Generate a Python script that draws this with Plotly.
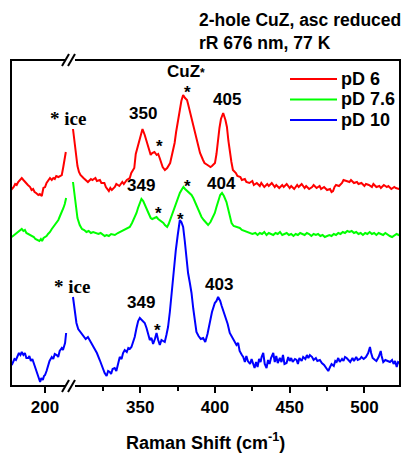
import plotly.graph_objects as go

# ---------------- data (Raman shift in cm-1, intensity in arbitrary units incl. offset) ----------------
red_left_wn = [177.2, 178, 179, 180, 181, 182, 183, 184.4, 185.5, 186.5, 187.5, 188.5, 190, 191, 192, 193, 194,
               195.5, 196.5, 197.8, 198.9, 200, 201, 202, 203.3, 204.5, 205.5, 206.5, 207.5, 208.9, 210, 211.2,
               212.2, 213, 213.9]
red_left_int = [196, 197, 199, 202, 201, 204, 206, 208, 206, 204, 202, 201, 199, 196, 197, 194, 193,
                191, 192, 190, 198, 199, 203, 205, 208, 206, 208, 207, 210, 209, 210, 211,
                219, 226, 234]

red_right_wn = [305, 306, 307, 308, 309, 310, 312, 314, 315, 317, 318, 320, 321, 323, 324, 326, 327, 329, 330, 331,
                333, 334, 336, 338, 339, 341, 343, 344, 345, 346, 347, 348, 349, 350, 351.5, 353, 354, 355, 357, 358,
                359.5, 361, 362, 363, 364, 365, 366.5, 368, 370, 371, 373, 374, 375, 376.5, 377.5, 378.7, 380, 381.3,
                382, 383, 384, 386, 387, 389, 390, 392, 393, 395, 397, 398, 400, 401, 402, 403, 404, 405.5, 407, 408,
                409, 410, 411, 412, 414, 415, 417, 418, 420, 421, 423, 425, 426, 428, 430, 431, 433, 435, 436, 438,
                440, 441, 443, 445, 446, 448, 450, 451, 453, 455, 456, 458, 460, 461, 463, 465, 466, 468, 470, 471,
                473, 475, 477, 478, 479, 480, 481, 483, 485, 486, 488, 490, 491, 493, 495, 496, 498, 500, 501, 503,
                505, 506, 508, 510, 511, 513, 515, 516, 518, 520, 521, 523, 524]
red_right_int = [257, 243, 232, 220, 214, 211, 208, 205, 204, 207, 206, 208, 205, 206, 203, 203, 199, 195, 198, 196,
                 199, 202, 200, 204, 202, 206, 208, 213, 215, 218, 232, 238, 243, 251, 257, 251, 246, 240, 231, 233,
                 234, 231, 232, 228, 224, 219, 216, 218, 223, 230, 243, 254, 265, 276, 285, 291, 288, 286,
                 282, 276, 268, 258, 250, 239, 233, 226, 223, 221, 219, 220, 223, 232, 246, 258, 267, 273, 266, 259,
                 245, 232, 224, 216, 213, 210, 209, 206, 207, 204, 203, 205, 201, 203, 200, 203, 199, 202, 200, 203,
                 199, 201, 198, 201, 199, 202, 198, 200, 197, 201, 199, 202, 198, 200, 197, 199, 201, 198, 200, 197,
                 199, 196, 197, 194, 195, 199, 201, 200, 203, 206, 205, 204, 206, 203, 204, 202, 203, 200, 202, 201,
                 199, 202, 199, 200, 198, 201, 199, 200, 197, 199, 198, 197, 198]

green_left_wn = [177.7, 178.5, 179.5, 180.5, 181.5, 182.5, 184.4, 185.5, 186.5, 187.5, 189, 190, 191, 192.5, 193.5,
                 195, 196.2, 197.2, 198, 199, 200, 201, 202, 203.3, 204.5, 205.5, 206.5, 207.5, 208.9, 210, 211,
                 212.3, 213.2, 214.1]
green_left_int = [149, 150, 151, 153, 154, 155, 157, 155, 156, 153, 152, 151, 150, 149, 147,
                  146, 145, 147, 145, 148, 149, 150, 152, 154, 157, 159, 161, 163, 166, 170, 173,
                  178, 182, 188]

green_right_wn = [305, 306, 306.8, 308, 309.5, 311, 312.5, 314, 315.5, 317, 318.5, 320.7, 322, 323.5, 325, 326.2,
                  327.5, 329, 330.5, 332, 333, 335, 336.5, 338.5, 340, 341.5, 343, 344.5, 345.5, 347.5, 348.5, 349.5,
                  350.8, 352, 353, 354.2, 355.5, 357, 358, 359.5, 360.9, 362, 363, 364.2, 365.5, 366.5, 368, 369, 370,
                  371, 372, 373.5, 375, 376.5, 378, 378.9, 380, 381.5, 383, 384.3, 385.5, 387, 388.5, 389.9, 391,
                  392.5, 394, 395.4, 397, 398.5, 399.9, 401, 402.5, 403.5, 404.7, 406, 407.7, 409, 410, 411.1, 412.5,
                  414, 415.5, 416.6, 418, 420, 421.5, 423.3, 425, 427, 428.5, 430, 431.5, 433, 434.5, 436, 437.5,
                  439, 440.5, 442, 443.5, 445, 446.5, 448, 449.5, 451, 452.5, 454, 455.5, 457, 458.5, 460, 461.5,
                  463, 464.5, 466, 467.5, 469, 470.5, 472, 473.5, 475, 476.5, 478, 479.5, 481, 482.5, 484, 485.5,
                  487, 488.5, 490, 491.5, 493, 494.5, 496, 497.5, 499, 500.5, 502, 503.5, 505, 506.5, 508, 509.5,
                  511, 512.5, 514, 515.5, 517, 518.5, 520, 521.5, 523, 524]
green_right_int = [204, 192, 179, 168, 161, 157, 156, 154, 155, 153, 154, 153, 152, 153, 151, 150,
                   151, 150, 152, 151, 151, 153, 154, 156, 157, 158, 159, 163, 166, 173, 178, 183,
                   187, 185, 181, 178, 173, 168, 167, 168, 169, 167, 166, 164, 163, 161, 159, 162, 166,
                   171, 176, 182, 188, 193, 197, 199, 197, 195, 193, 191, 188, 183, 178, 173, 169,
                   166, 163, 161, 164, 168, 173, 179, 187, 191, 193, 190, 184, 175, 168, 163, 160,
                   159, 158, 158, 156, 155, 154, 153, 152, 153, 151, 153, 152, 154, 151, 153, 152,
                   151, 153, 152, 154, 151, 152, 153, 151, 152, 150, 152, 151, 153, 152, 151, 153,
                   152, 150, 152, 151, 152, 150, 151, 149, 150, 151, 150, 152, 151, 153, 152, 154,
                   153, 155, 154, 155, 153, 154, 152, 153, 151, 153, 152, 154, 152, 153, 151, 153,
                   152, 151, 153, 151, 150, 149, 151, 152, 151, 152]

blue_left_wn = [177.7, 178.5, 179.5, 180.5, 181.5, 182.5, 183.5, 184.4, 185.5, 186.5, 187.5, 188.8, 189.5, 190.5,
                191.5, 192.2, 193, 194.4, 195.3, 196, 196.7, 197.5, 198.5, 199.3, 200, 201, 202, 203, 204.5, 205.5,
                206.5, 207.8, 208.8, 209.8, 211.2, 212, 213, 213.4, 214.1]
blue_left_int = [21, 24, 27, 26, 30, 33, 31, 34, 31, 33, 28, 28, 30, 25,
                 27, 24, 19, 13, 9, 6, 4, 8, 6, 10, 11, 15, 20, 25, 29, 27,
                 32, 31, 29, 35, 38, 36, 41, 43, 53]

blue_right_wn = [305, 306, 307.3, 308.5, 310.6, 312, 313.5, 315, 316.5, 318, 319.5, 321, 322.9, 324, 325, 326.2,
                 327.5, 328.5, 329.6, 330.5, 331.5, 332.9, 334, 335, 336.3, 337.5, 338.5, 339.6, 341, 342, 343,
                 344.1, 345.2, 346.3, 347.5, 348.6, 349.7, 351, 352, 353, 354.2, 355.3, 356.4, 357.5, 358.6, 359.8,
                 360.9, 362, 363.1, 364.2, 365.3, 366.4, 367.5, 368.6, 369.8, 370.9, 372, 373, 373.8, 375, 376.5,
                 377.5, 378.7, 379.8, 380.9, 382, 383.2, 384.3, 385.5, 386.5, 387.6, 389, 390.5, 392.1, 393.5, 395,
                 396.6, 398, 399.9, 401, 402.1, 403.5, 404.5, 405.5, 407, 408.5, 409.9, 411, 412.5, 414.4, 415.5,
                 416.5, 418, 418.9, 420, 421, 422, 423.5, 424.5, 425.6, 426.5, 427.5, 428.5, 429.5, 430.5, 431.2,
                 432.3, 433.3, 434.5, 435.5, 436.5, 437.5, 439, 440, 441, 442, 443.4, 444.5, 445.5, 446.5, 447.9,
                 449, 450, 451, 452, 453.5, 454.6, 455.5, 456.5, 458, 459, 460.5, 461.5, 462.5, 463.5, 465, 466,
                 467.5, 468.5, 470.2, 471.5, 473, 474, 475, 475.8, 477, 478, 479.5, 480.5, 481.4, 482.5, 483.5, 485,
                 486, 487, 488.1, 489.5, 490.5, 492, 493, 494.5, 495.5, 497, 498, 499.5, 501, 502.5, 503.7, 504.5,
                 505.5, 507.1, 508, 509.5, 510.9, 511.5, 512.6, 514, 515.5, 517.1, 518.5, 519.5, 520.5, 521.6,
                 522.5, 523.5]
blue_right_int = [89, 78, 63, 57, 53, 51, 47, 49, 45, 41, 38, 33, 26, 21, 17, 13,
                  10, 15, 14, 12, 17, 18, 15, 22, 29, 27, 33, 36, 34, 38, 37,
                  39, 44, 49, 58, 65, 68, 66, 64, 63, 58, 51, 46, 48, 42, 47,
                  53, 46, 41, 46, 45, 44, 51, 59, 74, 93, 107, 122, 136, 150, 166,
                  164, 159, 145, 126, 113, 103, 93, 77, 63, 54, 50, 47, 48, 44, 52,
                  66, 74, 83, 85, 89, 85, 80, 76, 70, 62, 53, 50, 45, 41, 43,
                  35, 31, 29, 24, 30, 25, 22, 27, 21, 18, 24, 19, 27, 24, 29,
                  33, 22, 18, 26, 22, 28, 33, 24, 30, 23, 28, 24, 31, 22, 23,
                  29, 25, 28, 24, 27, 26, 22, 28, 25, 29, 27, 31, 28, 31, 29, 26,
                  28, 25, 26, 23, 21, 19, 16, 15, 19, 22, 20, 25, 24, 28, 24, 27,
                  25, 29, 28, 26, 24, 28, 25, 29, 26, 27, 29, 27, 29, 33, 39, 33,
                  28, 26, 25, 29, 35, 30, 24, 26, 25, 24, 26, 22, 25, 19,
                  24, 23]

series_names = ["pD 6", "pD 7.6", "pD 10"]
series_colors = ["#ff0000", "#00ff00", "#0000ff"]

left_range = [177.2, 216.7]
right_range = [303, 523.8]
right_major_ticks = [350, 400, 450, 500]
right_minor_ticks = [325, 375, 425, 475]
left_major_ticks = [200]

# ---------------- figure ----------------
W, H = 408, 453
ML, MR, MT, MB = 11, 8, 60, 67
plot_w = W - ML - MR
plot_h = H - MT - MB
split = 59 / plot_w  # axis-break position in paper coords


def px2paper_x(px):
    return (px - ML) / plot_w


def px2paper_y(py):
    return (MT + plot_h - py) / plot_h


fig = go.Figure()
segments = [
    (red_left_wn, red_left_int, red_right_wn, red_right_int),
    (green_left_wn, green_left_int, green_right_wn, green_right_int),
    (blue_left_wn, blue_left_int, blue_right_wn, blue_right_int),
]
for (lx, ly, rx, ry), name, col in zip(segments, series_names, series_colors):
    fig.add_trace(go.Scatter(x=lx, y=ly, mode="lines", line=dict(color=col, width=2),
                             xaxis="x", yaxis="y", showlegend=False, legendgroup=name, name=name))
    fig.add_trace(go.Scatter(x=rx, y=ry, mode="lines", line=dict(color=col, width=2), name=name,
                             xaxis="x2", yaxis="y", showlegend=False, legendgroup=name))

tickfont = dict(family="Liberation Sans, Arial", size=17, color="black", weight="bold")
fig.update_layout(
    width=W, height=H,
    margin=dict(l=ML, r=MR, t=MT, b=MB, pad=0),
    paper_bgcolor="white", plot_bgcolor="white",
    xaxis=dict(domain=[0, split], range=left_range, tickvals=left_major_ticks, ticks="outside",
               ticklen=6, tickwidth=2, tickcolor="black", showgrid=False, zeroline=False,
               showline=False, tickfont=tickfont, anchor="y"),
    xaxis2=dict(domain=[split, 1], range=right_range, tickvals=right_major_ticks, ticks="outside",
                ticklen=6, tickwidth=2, tickcolor="black", showgrid=False, zeroline=False,
                showline=False, tickfont=tickfont, anchor="y",
                minor=dict(tickmode="array", tickvals=right_minor_ticks, ticks="outside",
                           ticklen=4, tickwidth=2, tickcolor="black", showgrid=False)),
    yaxis=dict(range=[0, plot_h], visible=False, fixedrange=True),
    showlegend=False,
)

# frame
fig.add_shape(type="rect", xref="paper", yref="paper", x0=0, x1=1, y0=0, y1=1,
              line=dict(color="black", width=2), fillcolor="rgba(0,0,0,0)", layer="above")
# axis break marks
for py in (60, 386):
    yc = px2paper_y(py)
    dy = 6 / plot_h
    fig.add_shape(type="rect", xref="paper", yref="paper", x0=px2paper_x(65), x1=px2paper_x(75),
                  y0=yc - 2 / plot_h, y1=yc + 2 / plot_h, line=dict(width=0), fillcolor="white", layer="above")
    for x0 in (62, 68):
        fig.add_shape(type="line", xref="paper", yref="paper",
                      x0=px2paper_x(x0), y0=yc - dy, x1=px2paper_x(x0 + 7), y1=yc + dy,
                      line=dict(color="black", width=2), layer="above")

bold = dict(family="Liberation Sans, Arial", size=17, color="black", weight="bold")
legfont = dict(family="Liberation Sans, Arial", size=18, color="black", weight="bold")
serif = dict(family="Liberation Serif, Times New Roman, serif", size=19, color="black")

# legend (drawn as line samples + labels)
for name, col, py in zip(series_names, series_colors, (79, 99.5, 120)):
    fig.add_shape(type="line", xref="paper", yref="paper", x0=px2paper_x(290), x1=px2paper_x(337),
                  y0=px2paper_y(py), y1=px2paper_y(py), line=dict(color=col, width=2))
    fig.add_annotation(text=name, xref="paper", yref="paper", x=px2paper_x(339), y=px2paper_y(py),
                       xanchor="left", yanchor="middle", showarrow=False, font=legfont)

# title lines
titlefont = dict(family="Liberation Sans, Arial", size=17.5, color="black", weight="bold")
fig.add_annotation(text="2-hole CuZ, asc reduced", xref="paper", yref="paper", x=px2paper_x(197),
                   y=px2paper_y(20), xanchor="left", yanchor="middle", showarrow=False, font=titlefont)
fig.add_annotation(text="rR 676 nm, 77 K", xref="paper", yref="paper", x=px2paper_x(197),
                   y=px2paper_y(43), xanchor="left", yanchor="middle", showarrow=False, font=titlefont)
# x-axis title
fig.add_annotation(text="Raman Shift (cm<sup>-1</sup>)", xref="paper", yref="paper", x=px2paper_x(205),
                   y=px2paper_y(441), xanchor="center", yanchor="middle", showarrow=False,
                   font=dict(family="Liberation Sans, Arial", size=18, color="black", weight="bold"))

# peak labels (x in cm-1, y in intensity units)
peak_labels = [
    ("CuZ<span style='font-size:12px'>*</span>", 380.5, 315),
    ("350", 351.7, 273), ("405", 407.9, 287),
    ("349", 350.3, 201), ("404", 404.6, 203),
    ("349", 350.3, 84), ("403", 402.6, 102),
]
for t, x, y in peak_labels:
    fig.add_annotation(text=t, x=x, y=y, xref="x2", yref="y", showarrow=False, font=bold)

star_labels = [(381.6, 294), (363.1, 240), (362.4, 173), (381.8, 200), (377.1, 167), (361.7, 56)]
for x, y in star_labels:
    fig.add_annotation(text="*", x=x, y=y, xref="x2", yref="y", showarrow=False, font=bold)

for xpx, y in ((48, 268), (52, 100)):
    fig.add_annotation(text="<b>* ice</b>", x=px2paper_x(xpx), y=y, xref="paper", yref="y",
                       showarrow=False, xanchor="left", font=serif)

fig.write_html("out.html")
